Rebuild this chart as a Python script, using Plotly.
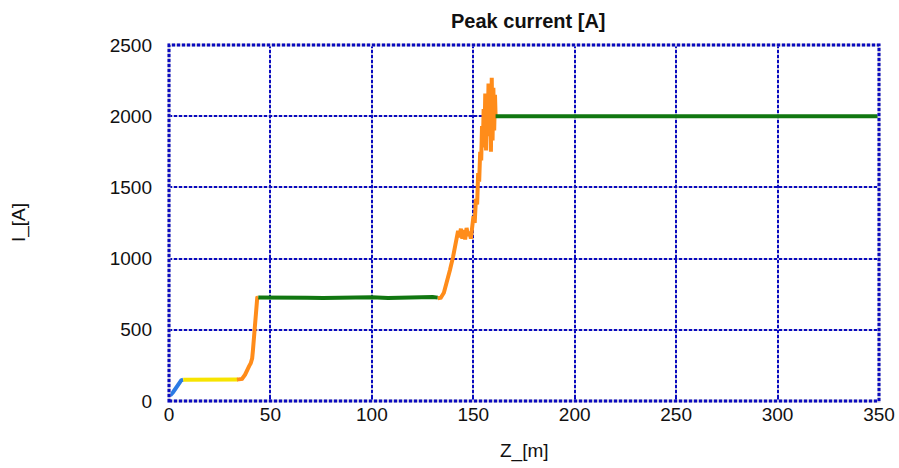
import plotly.graph_objects as go

# Peak current along the line, one segment per section
z_blue = [0, 1, 2, 3, 4, 5, 6, 7]
i_blue = [40, 45, 62, 85, 108, 128, 145, 150]

z_yellow = [7, 12, 18, 24, 30, 34]
i_yellow = [150, 150, 151, 150, 150, 151]

z_orange1 = [33.5, 36, 37.5, 38.5, 39.5, 40.3, 41, 41.4, 41.8, 42.2, 42.6, 43, 43.5, 44]
i_orange1 = [150, 155, 185, 225, 245, 265, 300, 360, 440, 540, 620, 690, 725, 728]

z_green1 = [44, 52, 60, 68, 76, 84, 92, 100, 108, 116, 124, 130, 132.5]
i_green1 = [727, 724, 728, 725, 723, 727, 726, 729, 724, 727, 725, 730, 726]

z_orange2 = [132.5, 134, 135.5, 137, 138.5, 140, 141, 141.8, 142.5, 143.2, 143.9, 144.6,
             145.3, 146, 146.7, 147.4, 148.1, 148.8, 149.5, 150.1, 150.7, 151.3,
             151.9, 152.4, 152.9, 153.4, 153.9, 154.3, 154.7, 155.1, 155.5, 155.9,
             156.3, 156.7, 157.1, 157.5, 157.9, 158.3, 158.7, 159.1, 159.5, 159.9,
             160.3, 160.7, 161]
i_orange2 = [722, 725, 760, 830, 920, 1010, 1100, 1170, 1195, 1150, 1210, 1140,
             1200, 1135, 1215, 1160, 1190, 1140, 1220, 1300, 1250, 1420, 1380,
             1600, 1540, 1750, 1690, 1930, 1780, 2050, 1840, 2160, 1760, 2060,
             1900, 2230, 1860, 2180, 1750, 2270, 1830, 2200, 1900, 2150, 2000]

z_green2 = [161, 200, 250, 300, 350]
i_green2 = [2000, 2001, 1999, 2000, 2000]

x_ticks = [0, 50, 100, 150, 200, 250, 300, 350]
y_ticks = [0, 500, 1000, 1500, 2000, 2500]

segments = [
    (z_blue, i_blue, "#2b7be4"),
    (z_yellow, i_yellow, "#f7e400"),
    (z_orange1, i_orange1, "#ff8c1a"),
    (z_green1, i_green1, "#117711"),
    (z_orange2, i_orange2, "#ff8c1a"),
    (z_green2, i_green2, "#117711"),
]

BLUE = "#0a0ac0"
PALE = "#c4c4dc"
FONT_FAMILY = "Liberation Sans, Arial, Helvetica, sans-serif"
font = dict(family=FONT_FAMILY, size=19, color="#111111")

fig = go.Figure()
for zs, cur, col in segments:
    fig.add_trace(go.Scatter(x=zs, y=cur, mode="lines",
                             line=dict(color=col, width=4),
                             showlegend=False, hoverinfo="skip"))

# Grid is drawn twice: pale solid lines underneath, blue dashes on top
base_x = dict(range=[0, 350], tickvals=x_ticks, zeroline=False, showline=False,
              automargin=False)
base_y = dict(range=[0, 2500], tickvals=y_ticks, zeroline=False, showline=False,
              automargin=False)

fig.update_layout(
    width=899, height=468,
    margin=dict(l=169, r=20, t=45, b=67),
    paper_bgcolor="white", plot_bgcolor="white",
    font=font,
    showlegend=False,
    xaxis=dict(**base_x, showgrid=True, gridcolor=PALE, gridwidth=2,
               ticks="inside", ticklen=5, tickcolor=BLUE, tickwidth=2,
               tickfont=font),
    yaxis=dict(**base_y, showgrid=True, gridcolor=PALE, gridwidth=2,
               ticks="", ticklabelstandoff=16, tickfont=font),
    xaxis2=dict(**base_x, overlaying="x", matches="x", showgrid=True,
                gridcolor=BLUE, gridwidth=2, griddash="3px,2px",
                showticklabels=False, ticks=""),
    yaxis2=dict(**base_y, overlaying="y", matches="y", showgrid=True,
                gridcolor=BLUE, gridwidth=2, griddash="3px,2px",
                showticklabels=False, ticks=""),
    shapes=[
        dict(type="rect", xref="paper", yref="paper", x0=0, y0=0, x1=1, y1=1,
             line=dict(color=PALE, width=3), layer="above"),
        dict(type="rect", xref="paper", yref="paper", x0=0, y0=0, x1=1, y1=1,
             line=dict(color=BLUE, width=3, dash="3px,2px"), layer="above"),
    ],
    annotations=[
        dict(text="<b>Peak current [A]</b>", xref="paper", yref="paper",
             x=0.5, y=1, xanchor="center", yanchor="middle",
             xshift=4, yshift=24, showarrow=False,
             font=dict(family=FONT_FAMILY, size=20, color="#111111")),
        dict(text="Z_[m]", xref="paper", yref="paper", x=0.5, y=0,
             xanchor="center", yanchor="middle", yshift=-50,
             showarrow=False, font=font),
        dict(text="I_[A]", xref="paper", yref="paper", x=0, y=0.5,
             xanchor="center", yanchor="middle", xshift=-150,
             textangle=-90, showarrow=False, font=font),
    ],
)

# An invisible trace on the overlay axes so their grids are drawn
fig.add_trace(go.Scatter(x=[0, 350], y=[0, 2500], xaxis="x2", yaxis="y2",
                         mode="markers", marker=dict(opacity=0),
                         showlegend=False, hoverinfo="skip"))

fig.write_html("out.html")
